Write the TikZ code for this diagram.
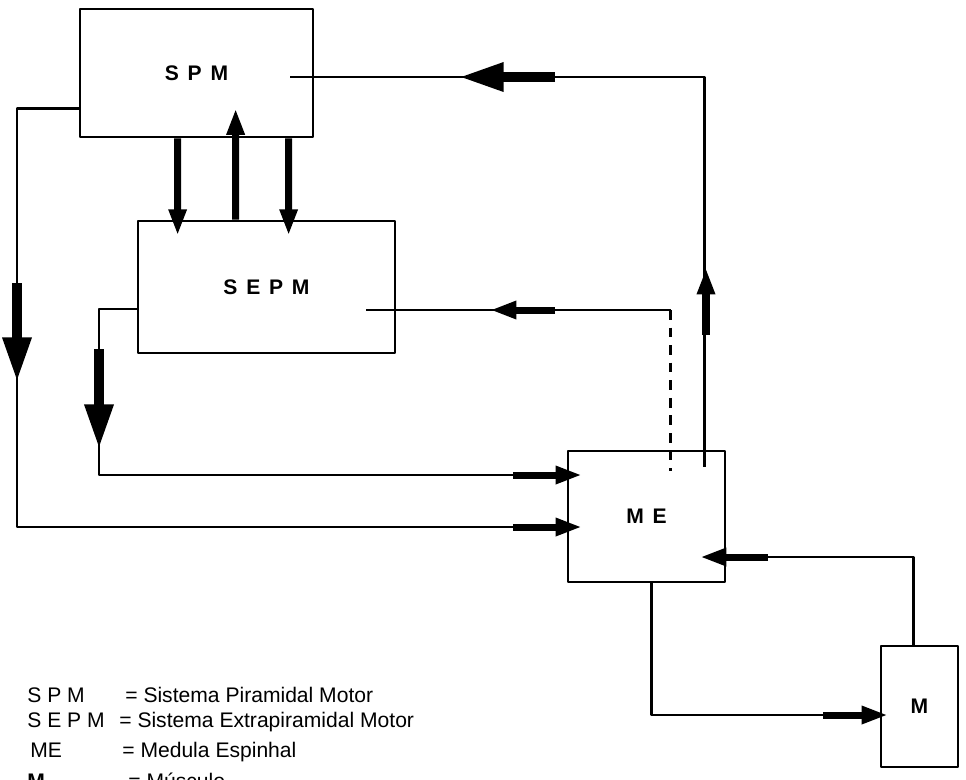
\documentclass[tikz,border=0pt]{standalone}
\usepackage{fontspec}
\setmainfont{Liberation Sans}
\newfontfamily\boxfont[WordSpace=1.5]{Liberation Sans}
\usetikzlibrary{arrows.meta,calc}

\begin{document}
\begin{tikzpicture}[x=0.02cm,y=-0.02cm,line join=round,
  blk/.style={draw,line width=1.6pt,inner sep=0pt,font=\boxfont\bfseries\fontsize{12}{14}\selectfont},
  conn/.style={line width=1.3pt},
  bigarr/.style={line width=6pt,-{Triangle[length=26pt,width=15pt]}},
  arr/.style={line width=4pt,-{Triangle[length=15pt,width=9.5pt]}},
  leg/.style={anchor=base west,inner sep=0pt,font=\fontsize{12}{14}\selectfont}]
  \useasboundingbox (0,0) rectangle (966,779);
  % boxes
  \node[blk,minimum width=4.66cm,minimum height=2.56cm] (spm) at (196.5,73) {S P M};
  \node[blk,minimum width=5.14cm,minimum height=2.64cm] (sepm) at (266.5,287) {S E P M};
  \node[blk,minimum width=3.14cm,minimum height=2.62cm] (me) at (646.5,516.5) {M E};
  \node[blk,minimum width=1.54cm,minimum height=2.42cm] (m) at (919.5,706.5) {M};
  % ME -> SPM
  \coordinate (a1) at ($(me.north west)+(138,17)$);
  \coordinate (a2) at ($(spm.center)+(93.5,4)$);
  \draw[conn] (a1) |- (a2);
  \draw[bigarr] (555,77) -- (458,77);
  \draw[arr] (706,335) -- (706,268);
  % SEPM -> ME (dashed)
  \coordinate (b1) at ($(sepm.center)+(99.5,23)$);
  \coordinate (b3) at ($(me.north west)+(104,21)$);
  \coordinate (b2) at (b3 |- b1);
  \draw[conn] (b1) -- (b2);
  \draw[line width=1.8pt,dash pattern=on 5.5pt off 4.5pt] (b2) -- (b3);
  \draw[arr] (555,310) -- (490,310);
  % SPM -> ME
  \coordinate (c1) at (17,527);
  \draw[conn] ($(spm.south west)+(0,-30)$) -| (c1) -- (c1 -| me.west);
  \draw[bigarr] (17,283) -- (17,383);
  \draw[arr] (513,527) -- (582,527);
  % SEPM -> ME
  \coordinate (d1) at (99,475);
  \draw[conn] ($(sepm.west)+(0,22)$) -| (d1) -- (d1 -| me.west);
  \draw[bigarr] (99,349) -- (99,450);
  \draw[arr] (513,475) -- (582,475);
  % ME -> M
  \coordinate (e1) at ($(me.south west)+(85,0)$);
  \draw[conn] (e1) |- ($(m.west)+(0,8.5)$);
  \draw[arr] (823,715) -- (888,715);
  % M -> ME
  \coordinate (f1) at ($(m.north west)+(34,0)$);
  \draw[conn] (f1) |- ($(me.east)+(0,40.5)$);
  \draw[arr] (768,557) -- (700,557);
  % SPM <-> SEPM
  \draw[arr] ($(spm.south west)+(99,0)$) -- ($(sepm.north west)+(41,16)$);
  \draw[arr] ($(sepm.north west)+(99,0)$) -- ($(spm.south west)+(157,-30)$);
  \draw[arr] ($(spm.south west)+(210,0)$) -- ($(sepm.north west)+(152,16)$);
  % legend
  \node[leg] (l1a) at (27,702) {S P M};
  \node[leg] (l1b) at (125,702) {= Sistema Piramidal Motor};
  \node[leg] (l2a) at (27,727) {S E P M};
  \node[leg] (l2b) at (119,727) {= Sistema Extrapiramidal Motor};
  \node[leg] (l3a) at (30,757) {ME};
  \node[leg] (l3b) at (122,757) {= Medula Espinhal};
  \node[leg,font=\bfseries\fontsize{12}{14}\selectfont] (l4a) at (27,788) {M};
  \node[leg] (l4b) at (128,788) {= Músculo};
\end{tikzpicture}
\end{document}
